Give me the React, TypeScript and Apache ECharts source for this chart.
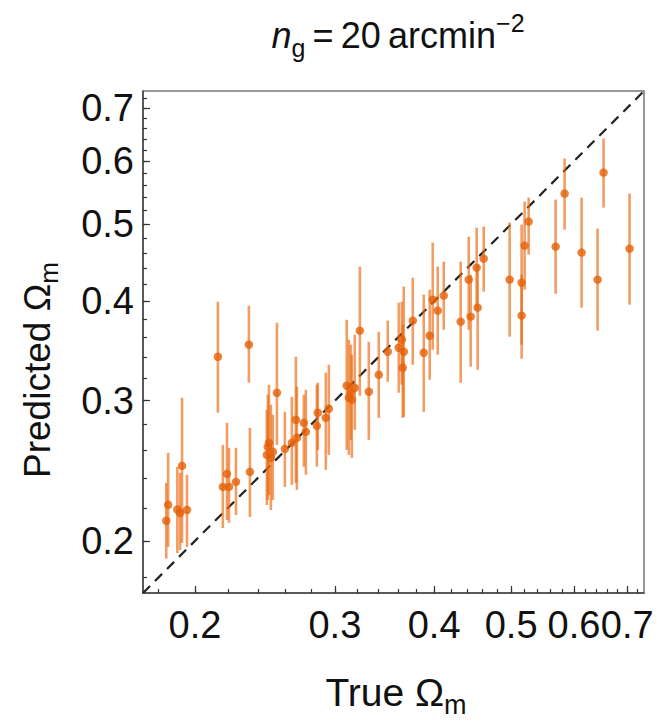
import React, { useEffect, useRef } from "react";
import * as echarts from "echarts";

// True Omega_m (x) for each simulation
const trueOmega = [
  0.184, 0.185, 0.19, 0.1915, 0.1926, 0.1954, 0.2137, 0.2168, 0.2194, 0.2207,
  0.2252, 0.2338, 0.2345, 0.2463, 0.2478, 0.2492, 0.2506, 0.247, 0.2536, 0.2595,
  0.2648, 0.2679, 0.2687, 0.2742, 0.2758, 0.2847, 0.2855, 0.2922, 0.2948, 0.3105,
  0.3124, 0.3142, 0.3151, 0.3178, 0.3225, 0.331, 0.3407, 0.3497, 0.361, 0.3642,
  0.3663, 0.3652, 0.376, 0.3881, 0.3949, 0.3984, 0.4042, 0.4113, 0.432, 0.4422,
  0.4447, 0.4525, 0.4538, 0.4618, 0.4979, 0.5155, 0.5155, 0.52, 0.5261, 0.5689,
  0.5839, 0.6134, 0.6425, 0.6537, 0.7049,
];
// Predicted Omega_m (central value)
const predOmega = [
  0.212, 0.222, 0.219, 0.2168, 0.2485, 0.2187, 0.3407, 0.2338, 0.2428, 0.2338,
  0.2372, 0.3528, 0.2442, 0.2565, 0.2656, 0.2543, 0.2588, 0.2625, 0.307, 0.261,
  0.2656, 0.2839, 0.2695, 0.2814, 0.2742, 0.279, 0.2897, 0.2855, 0.2931, 0.3133,
  0.3026, 0.307, 0.3008, 0.3114, 0.3674, 0.3079, 0.3234, 0.3457, 0.3497, 0.3579,
  0.3457, 0.33, 0.3782, 0.3447, 0.3621, 0.4019, 0.3893, 0.4066, 0.3771, 0.4258,
  0.3826, 0.4409, 0.3927, 0.4525, 0.4258, 0.4221, 0.3837, 0.4699, 0.5037, 0.4685,
  0.5463, 0.4605, 0.4258, 0.5805, 0.4658,
];
// Lower end of error bar
const predLow = [
  0.19, 0.1965, 0.1931, 0.1948, 0.1988, 0.1965, 0.2897, 0.2076, 0.2125, 0.2107,
  0.2156, 0.316, 0.2143, 0.2219, 0.2285, 0.2187, 0.2252, 0.2252, 0.264, 0.2338,
  0.2352, 0.2365, 0.2318, 0.2478, 0.2421, 0.2478, 0.2602, 0.2456, 0.2565, 0.2602,
  0.2565, 0.2679, 0.2543, 0.2758, 0.3043, 0.2679, 0.2855, 0.3169, 0.307, 0.3142,
  0.2864, 0.2855, 0.3329, 0.2905, 0.3188, 0.3477, 0.3427, 0.3684, 0.316, 0.3684,
  0.331, 0.3904, 0.3281, 0.4113, 0.361, 0.3528, 0.3387, 0.4137, 0.4578, 0.4089,
  0.4922, 0.3927, 0.3674, 0.5246, 0.3961,
];
// Upper end of error bar
const predHigh = [
  0.2365, 0.258, 0.2478, 0.2435, 0.3026, 0.2421, 0.3995, 0.264, 0.2814, 0.2618,
  0.2618, 0.3949, 0.2774, 0.2922, 0.3142, 0.2965, 0.288, 0.3052, 0.376, 0.2905,
  0.3034, 0.3407, 0.3124, 0.3052, 0.3097, 0.3142, 0.316, 0.3253, 0.3329, 0.3792,
  0.3579, 0.3528, 0.3427, 0.3631, 0.4422, 0.3558, 0.3663, 0.3782, 0.3984, 0.3995,
  0.4173, 0.3738, 0.4283, 0.4077, 0.4137, 0.474, 0.4422, 0.4486, 0.4486, 0.4823,
  0.432, 0.495, 0.4447, 0.4965, 0.5023, 0.4994, 0.432, 0.5338, 0.54, 0.5369,
  0.6046, 0.54, 0.4936, 0.6406, 0.5463,
];

const majorTicks = [0.2, 0.3, 0.4, 0.5, 0.6, 0.7];
const minorTicks = [
  0.18, 0.2, 0.22, 0.24, 0.26, 0.28, 0.3, 0.32, 0.34, 0.36, 0.38, 0.4, 0.42, 0.44,
  0.46, 0.48, 0.5, 0.52, 0.54, 0.56, 0.58, 0.6, 0.62, 0.64, 0.66, 0.68, 0.7, 0.72,
];
const axisMin = 0.172;
const axisMax = 0.735;

const lg = (v: number) => Math.log10(v);
const FONT = "'Liberation Sans', Arial, Helvetica, sans-serif";
const POINT_COLOR = "#E5620A";
const BAR_COLOR = "rgba(234, 104, 16, 0.65)";

export default function App() {
  const ref = useRef<HTMLDivElement>(null);

  useEffect(() => {
    if (!ref.current) return;
    const chart = echarts.init(ref.current, undefined, { renderer: "svg" });

    const mkAxis = (dim: "x" | "y", major: boolean) => {
      const base: any = {
        type: "value",
        min: lg(axisMin),
        max: lg(axisMax),
        position: dim === "x" ? "bottom" : "left",
        splitLine: { show: false },
        axisLine: major
          ? { show: false }
          : { show: true, lineStyle: { color: "#444", width: 1.5 } },
        axisTick: {
          show: true,
          inside: true,
          length: major ? 7 : 4,
          customValues: (major ? majorTicks : minorTicks).map(lg),
          lineStyle: { color: "#333", width: 1.2 },
        },
        axisLabel: major
          ? { show: false }
          : {
              show: true,
              customValues: majorTicks.map(lg),
              formatter: (v: number) => Math.pow(10, v).toFixed(1),
              fontSize: 38,
              fontFamily: FONT,
              color: "#111",
              margin: dim === "x" ? 13 : 9,
              hideOverlap: false,
              showMinLabel: true,
              showMaxLabel: true,
            },
      };
      return base;
    };

    const option: any = {
      animation: false,
      backgroundColor: "#ffffff",
      grid: {
        left: 143,
        top: 91,
        width: 501,
        height: 502,
        show: true,
        borderColor: "#777",
        borderWidth: 1.5,
        containLabel: false,
      },
      xAxis: [mkAxis("x", false), mkAxis("x", true)],
      yAxis: [mkAxis("y", false), mkAxis("y", true)],
      graphic: [
        {
          type: "text",
          x: 398,
          y: 35,
          style: {
            text: "{i|n}{s|g}{t|\u2009=\u200920\u2009arcmin}{p|\u22122}",
            align: "center",
            verticalAlign: "middle",
            rich: {
              i: { fontSize: 36, fontStyle: "italic", fontFamily: FONT, lineHeight: 50, fill: "#111" },
              s: { fontSize: 25, fontFamily: FONT, lineHeight: 26, verticalAlign: "bottom", fill: "#111" },
              t: { fontSize: 36, fontFamily: FONT, lineHeight: 50, fill: "#111" },
              p: { fontSize: 25, fontFamily: FONT, lineHeight: 22, verticalAlign: "top", fill: "#111" },
            },
          },
        },
        {
          type: "text",
          x: 396,
          y: 692,
          style: {
            text: "{t|True \u03A9}{s|m}",
            align: "center",
            verticalAlign: "middle",
            rich: {
              t: { fontSize: 39, fontFamily: FONT, lineHeight: 52, fill: "#111" },
              s: { fontSize: 27, fontFamily: FONT, lineHeight: 28, verticalAlign: "bottom", fill: "#111" },
            },
          },
        },
        {
          type: "text",
          x: 37,
          y: 370,
          rotation: Math.PI / 2,
          style: {
            text: "{t|Predicted \u03A9}{s|m}",
            align: "center",
            verticalAlign: "middle",
            rich: {
              t: { fontSize: 37, fontFamily: FONT, lineHeight: 50, fill: "#111" },
              s: { fontSize: 26, fontFamily: FONT, lineHeight: 27, verticalAlign: "bottom", fill: "#111" },
            },
          },
        },
      ],
      series: [
        {
          type: "line",
          xAxisIndex: 0,
          yAxisIndex: 0,
          data: [
            [lg(axisMin), lg(axisMin)],
            [lg(axisMax), lg(axisMax)],
          ],
          showSymbol: false,
          symbol: "none",
          lineStyle: { color: "#222", width: 2.2, type: [10, 7] },
          z: 1,
          silent: true,
        },
        {
          type: "custom",
          xAxisIndex: 0,
          yAxisIndex: 0,
          data: trueOmega.map((x, i) => [lg(x), lg(predLow[i]), lg(predHigh[i])]),
          encode: { x: 0, y: [1, 2] },
          renderItem: (params: any, api: any) => {
            const p1 = api.coord([api.value(0), api.value(1)]);
            const p2 = api.coord([api.value(0), api.value(2)]);
            return {
              type: "line",
              shape: { x1: p1[0], y1: p1[1], x2: p2[0], y2: p2[1] },
              style: { stroke: BAR_COLOR, lineWidth: 2.6 },
            };
          },
          z: 2,
        },
        {
          type: "scatter",
          xAxisIndex: 0,
          yAxisIndex: 0,
          data: trueOmega.map((x, i) => [lg(x), lg(predOmega[i])]),
          symbol: "circle",
          symbolSize: 8.5,
          itemStyle: { color: POINT_COLOR },
          z: 3,
        },
      ],
    };

    chart.setOption(option);
    return () => chart.dispose();
  }, []);

  return (
    <div
      ref={ref}
      style={{ position: "fixed", left: 0, top: 0, width: 659, height: 722, background: "#fff" }}
    />
  );
}
